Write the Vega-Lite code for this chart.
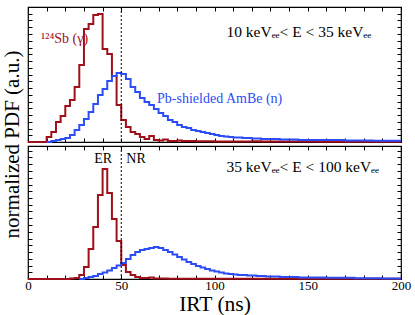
{
  "$schema": "https://vega.github.io/schema/vega-lite/v6.json",
  "padding": {"left": 0, "top": 5, "right": 12, "bottom": 2},
  "background": "white",
  "spacing": 4,
  "bounds": "flush",
  "config": {
    "view": {"stroke": "black", "strokeWidth": 1.2},
    "font": "Liberation Serif",
    "axis": {
      "domain": false, "grid": false, "tickColor": "black", "tickWidth": 1,
      "labelFont": "Liberation Serif", "titleFont": "Liberation Serif",
      "labelColor": "black", "titleColor": "black", "titleFontWeight": "normal"
    }
  },
  "datasets": {
    "h": [
      {"p":"top","s":"Sb","x":0,"h":0},{"p":"top","s":"Sb","x":10,"h":5},{"p":"top","s":"Sb","x":12.5,"h":10},{"p":"top","s":"Sb","x":15,"h":20},{"p":"top","s":"Sb","x":17.5,"h":26},{"p":"top","s":"Sb","x":20,"h":36},{"p":"top","s":"Sb","x":22.5,"h":42},{"p":"top","s":"Sb","x":25,"h":55},{"p":"top","s":"Sb","x":27.5,"h":77},{"p":"top","s":"Sb","x":30,"h":113},{"p":"top","s":"Sb","x":32.5,"h":118},{"p":"top","s":"Sb","x":35,"h":127},{"p":"top","s":"Sb","x":37.5,"h":128},{"p":"top","s":"Sb","x":40,"h":93},{"p":"top","s":"Sb","x":42.5,"h":88},{"p":"top","s":"Sb","x":45,"h":66},{"p":"top","s":"Sb","x":47.5,"h":37},{"p":"top","s":"Sb","x":50,"h":22},{"p":"top","s":"Sb","x":52.5,"h":15},{"p":"top","s":"Sb","x":55,"h":10},{"p":"top","s":"Sb","x":57.5,"h":8},{"p":"top","s":"Sb","x":60,"h":5},{"p":"top","s":"Sb","x":62.5,"h":3},{"p":"top","s":"Sb","x":65,"h":6},{"p":"top","s":"Sb","x":67.5,"h":2},{"p":"top","s":"Sb","x":70,"h":1.5},{"p":"top","s":"Sb","x":72.5,"h":2.5},{"p":"top","s":"Sb","x":75,"h":1},{"p":"top","s":"Sb","x":80,"h":1.5},{"p":"top","s":"Sb","x":82.5,"h":1},{"p":"top","s":"Sb","x":90,"h":0.7},{"p":"top","s":"Sb","x":100,"h":0.5},{"p":"top","s":"Sb","x":120,"h":0.8},{"p":"top","s":"Sb","x":125,"h":0.4},{"p":"top","s":"Sb","x":150,"h":0.6},{"p":"top","s":"Sb","x":155,"h":0.3},{"p":"top","s":"Sb","x":200,"h":0.3},
      {"p":"top","s":"AmBe","x":10,"h":0},{"p":"top","s":"AmBe","x":12.5,"h":1},{"p":"top","s":"AmBe","x":15,"h":2},{"p":"top","s":"AmBe","x":17.5,"h":3},{"p":"top","s":"AmBe","x":20,"h":4},{"p":"top","s":"AmBe","x":22.5,"h":7},{"p":"top","s":"AmBe","x":25,"h":12},{"p":"top","s":"AmBe","x":27.5,"h":17},{"p":"top","s":"AmBe","x":30,"h":23},{"p":"top","s":"AmBe","x":32.5,"h":30},{"p":"top","s":"AmBe","x":35,"h":38},{"p":"top","s":"AmBe","x":37.5,"h":47},{"p":"top","s":"AmBe","x":40,"h":53},{"p":"top","s":"AmBe","x":42.5,"h":61},{"p":"top","s":"AmBe","x":45,"h":66},{"p":"top","s":"AmBe","x":47.5,"h":69},{"p":"top","s":"AmBe","x":50,"h":68},{"p":"top","s":"AmBe","x":52.5,"h":63},{"p":"top","s":"AmBe","x":55,"h":55},{"p":"top","s":"AmBe","x":57.5,"h":50},{"p":"top","s":"AmBe","x":60,"h":44},{"p":"top","s":"AmBe","x":62.5,"h":40},{"p":"top","s":"AmBe","x":65,"h":37},{"p":"top","s":"AmBe","x":67.5,"h":33},{"p":"top","s":"AmBe","x":70,"h":29},{"p":"top","s":"AmBe","x":72.5,"h":26},{"p":"top","s":"AmBe","x":75,"h":22},{"p":"top","s":"AmBe","x":77.5,"h":20},{"p":"top","s":"AmBe","x":80,"h":17},{"p":"top","s":"AmBe","x":82.5,"h":15},{"p":"top","s":"AmBe","x":85,"h":14},{"p":"top","s":"AmBe","x":87.5,"h":12},{"p":"top","s":"AmBe","x":90,"h":11},{"p":"top","s":"AmBe","x":92.5,"h":10},{"p":"top","s":"AmBe","x":95,"h":9},{"p":"top","s":"AmBe","x":97.5,"h":8},{"p":"top","s":"AmBe","x":100,"h":7},{"p":"top","s":"AmBe","x":102.5,"h":6},{"p":"top","s":"AmBe","x":105,"h":5.5},{"p":"top","s":"AmBe","x":107.5,"h":5},{"p":"top","s":"AmBe","x":110,"h":4.5},{"p":"top","s":"AmBe","x":115,"h":4},{"p":"top","s":"AmBe","x":120,"h":3.5},{"p":"top","s":"AmBe","x":125,"h":3},{"p":"top","s":"AmBe","x":135,"h":2.5},{"p":"top","s":"AmBe","x":145,"h":2},{"p":"top","s":"AmBe","x":170,"h":1.5},{"p":"top","s":"AmBe","x":185,"h":1.2},{"p":"top","s":"AmBe","x":200,"h":1.2},
      {"p":"bottom","s":"Sb","x":0,"h":0},{"p":"bottom","s":"Sb","x":22.5,"h":0.5},{"p":"bottom","s":"Sb","x":25,"h":1},{"p":"bottom","s":"Sb","x":27.5,"h":4},{"p":"bottom","s":"Sb","x":30,"h":12},{"p":"bottom","s":"Sb","x":32.5,"h":30},{"p":"bottom","s":"Sb","x":35,"h":52},{"p":"bottom","s":"Sb","x":37.5,"h":84},{"p":"bottom","s":"Sb","x":40,"h":110},{"p":"bottom","s":"Sb","x":42.5,"h":86},{"p":"bottom","s":"Sb","x":45,"h":60},{"p":"bottom","s":"Sb","x":47.5,"h":38},{"p":"bottom","s":"Sb","x":50,"h":14},{"p":"bottom","s":"Sb","x":52.5,"h":7},{"p":"bottom","s":"Sb","x":55,"h":4},{"p":"bottom","s":"Sb","x":57.5,"h":2},{"p":"bottom","s":"Sb","x":60,"h":1},{"p":"bottom","s":"Sb","x":65,"h":1.5},{"p":"bottom","s":"Sb","x":67.5,"h":0.5},{"p":"bottom","s":"Sb","x":75,"h":0.3},{"p":"bottom","s":"Sb","x":200,"h":0.3},
      {"p":"bottom","s":"AmBe","x":27.5,"h":0},{"p":"bottom","s":"AmBe","x":30,"h":1},{"p":"bottom","s":"AmBe","x":32.5,"h":2},{"p":"bottom","s":"AmBe","x":35,"h":3},{"p":"bottom","s":"AmBe","x":37.5,"h":5},{"p":"bottom","s":"AmBe","x":40,"h":6.5},{"p":"bottom","s":"AmBe","x":42.5,"h":8.5},{"p":"bottom","s":"AmBe","x":45,"h":11},{"p":"bottom","s":"AmBe","x":47.5,"h":13.5},{"p":"bottom","s":"AmBe","x":50,"h":16},{"p":"bottom","s":"AmBe","x":52.5,"h":20},{"p":"bottom","s":"AmBe","x":55,"h":24},{"p":"bottom","s":"AmBe","x":57.5,"h":27},{"p":"bottom","s":"AmBe","x":60,"h":29},{"p":"bottom","s":"AmBe","x":62.5,"h":30},{"p":"bottom","s":"AmBe","x":65,"h":31},{"p":"bottom","s":"AmBe","x":67.5,"h":32},{"p":"bottom","s":"AmBe","x":70,"h":31},{"p":"bottom","s":"AmBe","x":72.5,"h":29},{"p":"bottom","s":"AmBe","x":75,"h":27},{"p":"bottom","s":"AmBe","x":77.5,"h":24.5},{"p":"bottom","s":"AmBe","x":80,"h":22},{"p":"bottom","s":"AmBe","x":82.5,"h":19.5},{"p":"bottom","s":"AmBe","x":85,"h":17},{"p":"bottom","s":"AmBe","x":87.5,"h":15},{"p":"bottom","s":"AmBe","x":90,"h":13},{"p":"bottom","s":"AmBe","x":92.5,"h":11.5},{"p":"bottom","s":"AmBe","x":95,"h":10},{"p":"bottom","s":"AmBe","x":97.5,"h":8.5},{"p":"bottom","s":"AmBe","x":100,"h":7.5},{"p":"bottom","s":"AmBe","x":102.5,"h":6.5},{"p":"bottom","s":"AmBe","x":105,"h":5.5},{"p":"bottom","s":"AmBe","x":107.5,"h":5},{"p":"bottom","s":"AmBe","x":110,"h":4.5},{"p":"bottom","s":"AmBe","x":112.5,"h":4},{"p":"bottom","s":"AmBe","x":117.5,"h":3.5},{"p":"bottom","s":"AmBe","x":122.5,"h":3},{"p":"bottom","s":"AmBe","x":127.5,"h":2.5},{"p":"bottom","s":"AmBe","x":135,"h":2},{"p":"bottom","s":"AmBe","x":145,"h":1.5},{"p":"bottom","s":"AmBe","x":160,"h":1.2},{"p":"bottom","s":"AmBe","x":175,"h":0.8},{"p":"bottom","s":"AmBe","x":190,"h":0.6},{"p":"bottom","s":"AmBe","x":200,"h":0.6}
    ],
    "lab": [
      {"p":"top","s":"Sb","x":7,"y":103,"t":"¹²⁴Sb (γ)"},
      {"p":"top","s":"AmBe","x":69.2,"y":43,"t":"Pb-shielded AmBe (n)"},
      {"p":"top","s":"cut","x":106.4,"y":110,"t":"10 keVₑₑ< E < 35 keVₑₑ"},
      {"p":"bottom","s":"cut","x":35.5,"y":120,"t":"ER"},
      {"p":"bottom","s":"cut","x":52.7,"y":120,"t":"NR"},
      {"p":"bottom","s":"cut","x":106.4,"y":112,"t":"35 keVₑₑ< E < 100 keVₑₑ"}
    ]
  },
  "vconcat": [
    {
      "width": 373, "height": 135,
      "layer": [
        {
          "data": {"name": "h"},
          "transform": [{"filter": "datum.p == 'top'"}],
          "mark": {"type": "line", "interpolate": "step-after", "strokeWidth": 2},
          "encoding": {
            "x": {"field": "x", "type": "quantitative", "scale": {"domain": [0, 200], "nice": false},
              "axis": {"orient": "bottom", "values": [0,10,20,30,40,50,60,70,80,90,100,110,120,130,140,150,160,170,180,190,200], "labels": false, "title": null, "tickSize": -4}},
            "y": {"field": "h", "type": "quantitative", "scale": {"domain": [0, 135], "nice": false},
              "axis": {"orient": "left", "values": [0,6.75,13.5,20.25,27,33.75,40.5,47.25,54,60.75,67.5,74.25,81,87.75,94.5,101.25,108,114.75,121.5,128.25,135], "labels": false, "tickSize": -4,
                "title": "normalized PDF (a.u.)", "titleFontSize": 21, "titleAngle": 270, "titleX": -16, "titleY": 137, "titleBaseline": "middle", "titleAlign": "center"}},
            "color": {"field": "s", "type": "nominal", "scale": {"domain": ["Sb", "AmBe", "cut"], "range": ["#a0101b", "#2c4cf6", "#000000"]}, "legend": null}
          }
        },
        {
          "data": {"values": [{"x": 50}]},
          "mark": {"type": "rule", "color": "black", "strokeWidth": 1, "strokeDash": [2, 2]},
          "encoding": {
            "x": {"field": "x", "type": "quantitative",
              "axis": {"orient": "top", "values": [0,10,20,30,40,50,60,70,80,90,100,110,120,130,140,150,160,170,180,190,200], "labels": false, "title": null, "tickSize": -4}}
          }
        },
        {
          "data": {"name": "lab"},
          "transform": [{"filter": "datum.p == 'top'"}],
          "mark": {"type": "text", "align": "left", "baseline": "middle", "fontSize": 14, "font": "Liberation Serif"},
          "encoding": {
            "x": {"field": "x", "type": "quantitative", "axis": null},
            "y": {"field": "y", "type": "quantitative",
              "axis": {"orient": "right", "values": [0,6.75,13.5,20.25,27,33.75,40.5,47.25,54,60.75,67.5,74.25,81,87.75,94.5,101.25,108,114.75,121.5,128.25,135], "labels": false, "title": null, "tickSize": -4}},
            "text": {"field": "t"},
            "size": {"condition": {"test": "datum.s == 'cut'", "value": 15.5}, "value": 14},
            "color": {"field": "s", "type": "nominal", "legend": null}
          }
        }
      ]
    },
    {
      "width": 373, "height": 133,
      "layer": [
        {
          "data": {"name": "h"},
          "transform": [{"filter": "datum.p == 'bottom'"}],
          "mark": {"type": "line", "interpolate": "step-after", "strokeWidth": 2},
          "encoding": {
            "x": {"field": "x", "type": "quantitative", "scale": {"domain": [0, 200], "nice": false},
              "axis": {"orient": "bottom", "values": [0,10,20,30,40,50,60,70,80,90,100,110,120,130,140,150,160,170,180,190,200],
                "labelExpr": "datum.value % 50 === 0 ? datum.label : ''", "labelFontSize": 13, "labelPadding": 4, "labelFlush": false, "tickSize": -4,
                "title": "IRT (ns)", "titleFontSize": 21.5, "titleY": 25, "titleBaseline": "middle"}},
            "y": {"field": "h", "type": "quantitative", "scale": {"domain": [0, 133], "nice": false},
              "axis": {"orient": "left", "values": [0,6.75,13.5,20.25,27,33.75,40.5,47.25,54,60.75,67.5,74.25,81,87.75,94.5,101.25,108,114.75,121.5,128.25], "labels": false, "title": null, "tickSize": -4}},
            "color": {"field": "s", "type": "nominal", "scale": {"domain": ["Sb", "AmBe", "cut"], "range": ["#a0101b", "#2c4cf6", "#000000"]}, "legend": null}
          }
        },
        {
          "data": {"values": [{"x": 50}]},
          "mark": {"type": "rule", "color": "black", "strokeWidth": 1, "strokeDash": [2, 2]},
          "encoding": {
            "x": {"field": "x", "type": "quantitative",
              "axis": {"orient": "top", "values": [0,10,20,30,40,50,60,70,80,90,100,110,120,130,140,150,160,170,180,190,200], "labels": false, "title": null, "tickSize": -4}}
          }
        },
        {
          "data": {"name": "lab"},
          "transform": [{"filter": "datum.p == 'bottom'"}],
          "mark": {"type": "text", "align": "left", "baseline": "middle", "fontSize": 14, "font": "Liberation Serif"},
          "encoding": {
            "x": {"field": "x", "type": "quantitative", "axis": null},
            "y": {"field": "y", "type": "quantitative",
              "axis": {"orient": "right", "values": [0,6.75,13.5,20.25,27,33.75,40.5,47.25,54,60.75,67.5,74.25,81,87.75,94.5,101.25,108,114.75,121.5,128.25], "labels": false, "title": null, "tickSize": -4}},
            "text": {"field": "t"},
            "size": {"condition": {"test": "length(datum.t) > 5", "value": 15.5}, "value": 14},
            "color": {"field": "s", "type": "nominal", "legend": null}
          }
        }
      ]
    }
  ]
}
